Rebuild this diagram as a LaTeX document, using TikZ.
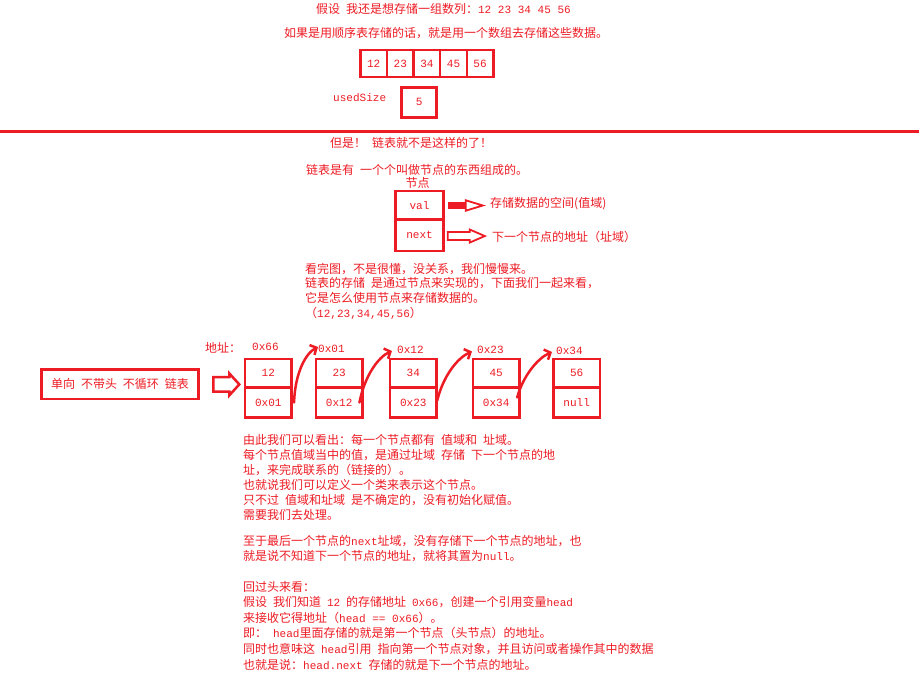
\documentclass[tikz,border=0pt]{standalone}
\usepackage{fontspec}
\setmainfont[WordSpace=2.2]{Noto Sans CJK SC}
\newfontfamily\latmono[Scale=0.92]{Liberation Mono}
\newcommand\lm[1]{{\latmono #1}}
\usetikzlibrary{arrows.meta,calc}
\definecolor{inkred}{RGB}{237,28,36}

\tikzset{
  % fat arrow with a solid shaft and a hollow head
  pics/solidarrow/.style n args={4}{code={
    \fill[inkred] (0,-#2) rectangle (#1,#2);
    \draw[inkred,line width=1.8pt,fill=white,line join=miter]
      (#1,-#3) -- (#4,0) -- (#1,#3) -- cycle;
  }},
  % fat arrow drawn as a hollow outline
  pics/hollowarrow/.style n args={5}{code={
    \draw[inkred,line width=#5,fill=white,line join=miter]
      (0,-#2) -- (#1,-#2) -- (#1,-#3) -- (#4,0) -- (#1,#3) -- (#1,#2) -- (0,#2) -- cycle;
  }},
}

\begin{document}
\begin{tikzpicture}[x=1pt,y=-1pt,
  txt/.style={anchor=west,inner sep=0pt,text=inkred,font=\fontsize{12}{14}\selectfont},
  box/.style={draw=inkred,line width=2.5pt,inner sep=0pt,outer sep=0pt,text=inkred,
              font=\fontsize{12}{14}\selectfont},
  valcell/.style={box,minimum width=46.5pt,minimum height=28.5pt,anchor=north},
  nextcell/.style={box,minimum width=46.5pt,minimum height=30pt,anchor=north},
  link/.style={draw=inkred,line width=2.5pt,line cap=round,
               -{Straight Barb[length=5pt,width=11pt]}},
]
\fill[white] (0,0) rectangle (919,675);
\useasboundingbox (0,0) rectangle (919,675);

% ---- sequential storage ----
\node[txt] (title) at (316,9) {假设 我还是想存储一组数列：\lm{12 23 34 45 56}};
\node[txt] (seq) at (284,33) {如果是用顺序表存储的话，就是用一个数组去存储这些数据。};
\foreach \v/\x [count=\i] in {12/373.7,23/400.3,34/426.9,45/453.5,56/480.1}
  \node[box,minimum width=26.6pt,minimum height=26.6pt] (a\i) at (\x,63.5) {\lm{\v}};
\node[txt] (us) at (333,98) {\lm{usedSize}};
\node[box,minimum width=35pt,minimum height=30pt] (usz) at (419.2,102.3) {\lm{5}};

% ---- separator ----
\coordinate (sepL) at (0,131);
\coordinate (sepR) at (919,131);
\draw[inkred,line width=3pt] (sepL) -- (sepR);

% ---- a single node ----
\node[txt] (but) at (330,143) {但是！ 链表就不是这样的了！};
\node[txt] (def) at (306,170) {链表是有 一个个叫做节点的东西组成的。};
\node[txt,anchor=center] (nodecap) at (417.5,183) {节点};
\node[box,minimum width=47.6pt,minimum height=28.3pt] (val) at (419.5,205.2) {\lm{val}};
\node[box,minimum width=47.6pt,minimum height=31.4pt,anchor=north] (nxt) at (val.south) {\lm{next}};
\path (val.east) ++(4.5,0.3) pic {solidarrow={18}{3.2}{5.2}{35}};
\path (nxt.east) ++(4.5,1) pic {hollowarrow={22}{4}{6.5}{37}{1.8pt}};
\node[txt] (valdesc) at (490,204) {存储数据的空间(值域)};
\node[txt] (nxtdesc) at (492,237) {下一个节点的地址（址域）};

\node[txt] (p1) at (305,269) {看完图，不是很懂，没关系，我们慢慢来。};
\node[txt] (p2) at (305,283.5) {链表的存储 是通过节点来实现的，下面我们一起来看，};
\node[txt] (p3) at (305,298) {它是怎么使用节点来存储数据的。};
\node[txt] (p4) at (305,313) {（\lm{12,23,34,45,56}）};

% ---- the linked list ----
\node[box,minimum width=156.6pt,minimum height=29.7pt] (kind) at (120,384.2) {单向 不带头 不循环 链表};
\path (kind.east) ++(15,0.2) pic {hollowarrow={16}{7.3}{11}{26}{2.5pt}};
\node[txt] (addr) at (205,348) {地址：};

\node[valcell] (n1a) at (268.3,359) {\lm{12}};
\node[nextcell] (n1b) at (n1a.south) {\lm{0x01}};
\node[valcell] (n2a) at (339.2,359) {\lm{23}};
\node[nextcell] (n2b) at (n2a.south) {\lm{0x12}};
\node[valcell] (n3a) at (413.3,359) {\lm{34}};
\node[nextcell] (n3b) at (n3a.south) {\lm{0x23}};
\node[valcell] (n4a) at (496.2,359) {\lm{45}};
\node[nextcell] (n4b) at (n4a.south) {\lm{0x34}};
\node[valcell] (n5a) at (576.7,359) {\lm{56}};
\node[nextcell] (n5b) at (n5a.south) {\lm{null}};

\node[txt] (ad1) at (252,347) {\lm{0x66}};
\node[txt] (ad2) at (318,349) {\lm{0x01}};
\node[txt] (ad3) at (397,350) {\lm{0x12}};
\node[txt] (ad4) at (477,350) {\lm{0x23}};
\node[txt] (ad5) at (556,351) {\lm{0x34}};

\draw[link] ($(n1b.east)+(2.5,0)$) .. controls +(1,-30) and +(-12,6) .. ($(ad2.west)+(0,-2)$);
\draw[link] ($(n2b.east)+(-3,0)$) .. controls +(5,-26) and +(-14,6) .. ($(ad3.west)+(-5,1)$);
\draw[link] ($(n3b.east)+(0.7,-2)$) .. controls +(6,-25) and +(-14,6) .. ($(ad4.west)+(-5,1.5)$);
\draw[link] ($(n4b.east)+(-2.3,-5)$) .. controls +(6,-22) and +(-14,6) .. ($(ad5.west)+(-4,1)$);

% ---- explanation ----
\node[txt] (e1) at (243,440) {由此我们可以看出：每一个节点都有 值域和 址域。};
\node[txt] (e2) at (243,455) {每个节点值域当中的值，是通过址域 存储 下一个节点的地};
\node[txt] (e3) at (243,469.5) {址，来完成联系的（链接的）。};
\node[txt] (e4) at (243,485) {也就说我们可以定义一个类来表示这个节点。};
\node[txt] (e5) at (243,500) {只不过 值域和址域 是不确定的，没有初始化赋值。};
\node[txt] (e6) at (243,515) {需要我们去处理。};

\node[txt] (f1) at (243,541) {至于最后一个节点的\lm{next}址域，没有存储下一个节点的地址，也};
\node[txt] (f2) at (243,556) {就是说不知道下一个节点的地址，就将其置为\lm{null}。};

\node[txt] (g1) at (243,587) {回过头来看：};
\node[txt] (g2) at (243,602) {假设 我们知道 \lm{12} 的存储地址 \lm{0x66}，创建一个引用变量\lm{head}};
\node[txt] (g3) at (243,617.5) {来接收它得地址（\lm{head == 0x66}）。};
\node[txt] (g4) at (243,633) {即： \lm{head}里面存储的就是第一个节点（头节点）的地址。};
\node[txt] (g5) at (243,649) {同时也意味这 \lm{head}引用 指向第一个节点对象，并且访问或者操作其中的数据};
\node[txt] (g6) at (243,665) {也就是说：\lm{head.next} 存储的就是下一个节点的地址。};
\end{tikzpicture}
\end{document}
